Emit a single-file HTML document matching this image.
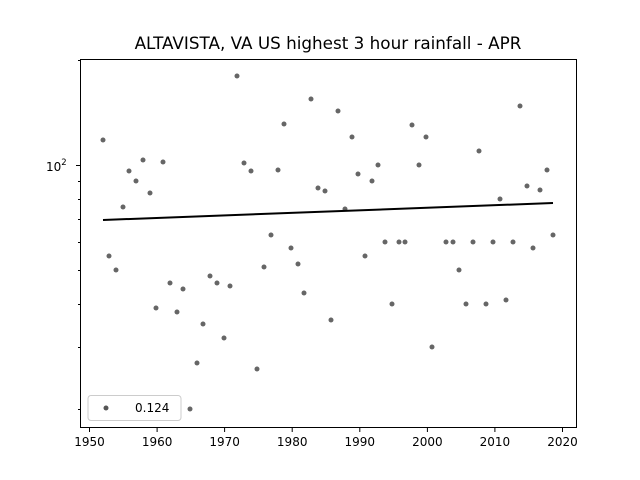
<!DOCTYPE html>
<html><head><meta charset="utf-8"><style>body{margin:0;background:#fff}svg{display:block;font-family:"DejaVu Sans","Liberation Sans",sans-serif}</style></head><body>
<svg width="640" height="480" viewBox="0 0 640 480">
<rect width="640" height="480" fill="#fff"/>
<text x="328" y="49" font-size="16.8" text-anchor="middle">ALTAVISTA, VA US highest 3 hour rainfall - APR</text>
<g fill="#555" fill-opacity="0.9">
<circle cx="103" cy="140" r="2.5"/><circle cx="109" cy="256" r="2.5"/><circle cx="116" cy="270" r="2.5"/><circle cx="123" cy="207" r="2.5"/><circle cx="129" cy="171" r="2.5"/><circle cx="136" cy="181" r="2.5"/><circle cx="143" cy="160" r="2.5"/><circle cx="150" cy="193" r="2.5"/><circle cx="156" cy="308" r="2.5"/><circle cx="163" cy="162" r="2.5"/><circle cx="170" cy="283" r="2.5"/><circle cx="177" cy="312" r="2.5"/><circle cx="183" cy="289" r="2.5"/><circle cx="190" cy="409" r="2.5"/><circle cx="197" cy="363" r="2.5"/><circle cx="203" cy="324" r="2.5"/><circle cx="210" cy="276" r="2.5"/><circle cx="217" cy="283" r="2.5"/><circle cx="224" cy="338" r="2.5"/><circle cx="230" cy="286" r="2.5"/><circle cx="237" cy="76" r="2.5"/><circle cx="244" cy="163" r="2.5"/><circle cx="251" cy="171" r="2.5"/><circle cx="257" cy="369" r="2.5"/><circle cx="264" cy="267" r="2.5"/><circle cx="271" cy="235" r="2.5"/><circle cx="278" cy="170" r="2.5"/><circle cx="284" cy="124" r="2.5"/><circle cx="291" cy="248" r="2.5"/><circle cx="298" cy="264" r="2.5"/><circle cx="304" cy="293" r="2.5"/><circle cx="311" cy="99" r="2.5"/><circle cx="318" cy="188" r="2.5"/><circle cx="325" cy="191" r="2.5"/><circle cx="331" cy="320" r="2.5"/><circle cx="338" cy="111" r="2.5"/><circle cx="345" cy="209" r="2.5"/><circle cx="352" cy="137" r="2.5"/><circle cx="358" cy="174" r="2.5"/><circle cx="365" cy="256" r="2.5"/><circle cx="372" cy="181" r="2.5"/><circle cx="378" cy="165" r="2.5"/><circle cx="385" cy="242" r="2.5"/><circle cx="392" cy="304" r="2.5"/><circle cx="399" cy="242" r="2.5"/><circle cx="405" cy="242" r="2.5"/><circle cx="412" cy="125" r="2.5"/><circle cx="419" cy="165" r="2.5"/><circle cx="426" cy="137" r="2.5"/><circle cx="432" cy="347" r="2.5"/><circle cx="446" cy="242" r="2.5"/><circle cx="453" cy="242" r="2.5"/><circle cx="459" cy="270" r="2.5"/><circle cx="466" cy="304" r="2.5"/><circle cx="473" cy="242" r="2.5"/><circle cx="479" cy="151" r="2.5"/><circle cx="486" cy="304" r="2.5"/><circle cx="493" cy="242" r="2.5"/><circle cx="500" cy="199" r="2.5"/><circle cx="506" cy="300" r="2.5"/><circle cx="513" cy="242" r="2.5"/><circle cx="520" cy="106" r="2.5"/><circle cx="527" cy="186" r="2.5"/><circle cx="533" cy="248" r="2.5"/><circle cx="540" cy="190" r="2.5"/><circle cx="547" cy="170" r="2.5"/><circle cx="553" cy="235" r="2.5"/>
</g>
<line x1="103" y1="220" x2="553" y2="203" stroke="#000" stroke-width="2"/>
<rect x="80.5" y="59.5" width="496" height="368" fill="none" stroke="#000" stroke-width="1"/>
<g stroke="#000" stroke-width="1">
<line x1="76" y1="165.5" x2="80" y2="165.5"/>
<line x1="78" y1="60.5" x2="80" y2="60.5"/><line x1="78" y1="181.5" x2="80" y2="181.5"/><line x1="78" y1="199.5" x2="80" y2="199.5"/><line x1="78" y1="219.5" x2="80" y2="219.5"/><line x1="78" y1="242.5" x2="80" y2="242.5"/><line x1="78" y1="270.5" x2="80" y2="270.5"/><line x1="78" y1="304.5" x2="80" y2="304.5"/><line x1="78" y1="347.5" x2="80" y2="347.5"/><line x1="78" y1="409.5" x2="80" y2="409.5"/>
<line x1="89.5" y1="428" x2="89.5" y2="432"/><line x1="157.1" y1="428" x2="157.1" y2="432"/><line x1="224.6" y1="428" x2="224.6" y2="432"/><line x1="292.2" y1="428" x2="292.2" y2="432"/><line x1="359.8" y1="428" x2="359.8" y2="432"/><line x1="427.4" y1="428" x2="427.4" y2="432"/><line x1="494.9" y1="428" x2="494.9" y2="432"/><line x1="562.5" y1="428" x2="562.5" y2="432"/>
</g>
<g font-size="12" text-anchor="middle">
<text x="89.5" y="446">1950</text><text x="157.1" y="446">1960</text><text x="224.6" y="446">1970</text><text x="292.2" y="446">1980</text><text x="359.8" y="446">1990</text><text x="427.4" y="446">2000</text><text x="494.9" y="446">2010</text><text x="562.5" y="446">2020</text>
</g>
<text x="46" y="171" font-size="12">10<tspan font-size="8.5" dy="-6">2</tspan></text>
<rect x="88" y="395.5" width="93" height="25" rx="3" fill="#fff" stroke="#ccc"/>
<circle cx="106" cy="408" r="2.5" fill="#555"/>
<text x="135" y="412" font-size="12">0.124</text>
</svg>
</body></html>
